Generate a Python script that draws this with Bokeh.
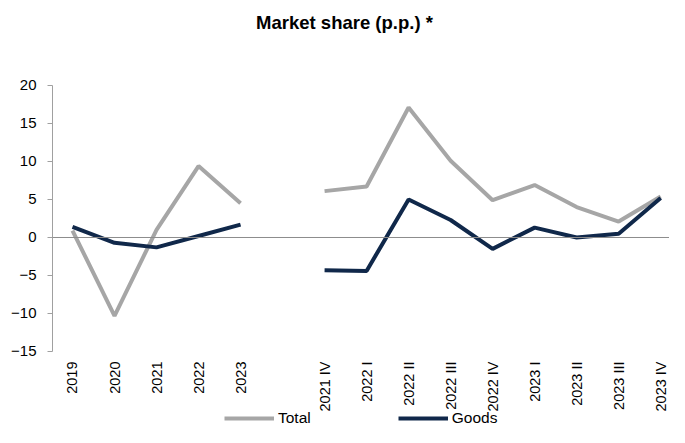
import math
from bokeh.plotting import figure
from bokeh.models import Range1d, FixedTicker, Legend, LegendItem, Span, Label
from bokeh.embed import file_html
from bokeh.resources import INLINE

# ---- data ----
categories = ["2019", "2020", "2021", "2022", "2023", "",
              "2021 IV", "2022 I", "2022 II", "2022 III", "2022 IV",
              "2023 I", "2023 II", "2023 III", "2023 IV"]
annual_labels = ["2019", "2020", "2021", "2022", "2023"]
quarter_labels = ["2021 IV", "2022 I", "2022 II", "2022 III", "2022 IV",
                  "2023 I", "2023 II", "2023 III", "2023 IV"]
total_annual = [0.9, -10.3, 1.0, 9.4, 4.5]
goods_annual = [1.4, -0.7, -1.3, 0.2, 1.7]
total_quarter = [6.1, 6.7, 17.1, 10.1, 4.9, 6.9, 4.0, 2.1, 5.4]
goods_quarter = [-4.3, -4.4, 5.0, 2.3, -1.5, 1.3, 0.0, 0.5, 5.2]
y_ticks = [-15, -10, -5, 0, 5, 10, 15, 20]
y_min, y_max = -15, 20

TOTAL_COLOR = "#A6A6A6"
GOODS_COLOR = "#10284A"
FONT = "Liberation Sans"

xa = [categories.index(c) for c in annual_labels]
xq = [categories.index(c) for c in quarter_labels]

W, H = 669, 427
LEFT = 52
p = figure(width=W, height=H, output_backend="svg", toolbar_location=None,
           x_range=Range1d(-0.476, 14.21), y_range=Range1d(-25.0, 31.18),
           min_border_left=LEFT, min_border_right=0, min_border_top=0,
           min_border_bottom=0)
p.outline_line_color = None
p.xgrid.visible = False
p.ygrid.visible = False

# title (inside the canvas, above the axes)
p.add_layout(Label(x=292, y=H - 22, x_units="screen", y_units="screen",
                   text="Market share (p.p.) *", text_font=FONT,
                   text_font_size="18.5px", text_font_style="bold",
                   text_color="#000000", text_align="center",
                   text_baseline="middle"))

# zero line
p.add_layout(Span(location=0, dimension="width", line_color="#8C8C8C", line_width=1))

r1 = p.line(xa, total_annual, line_color=TOTAL_COLOR, line_width=4)
p.line(xq, total_quarter, line_color=TOTAL_COLOR, line_width=4)
r2 = p.line(xa, goods_annual, line_color=GOODS_COLOR, line_width=4)
p.line(xq, goods_quarter, line_color=GOODS_COLOR, line_width=4)

# y axis
ya = p.yaxis[0]
ya.ticker = FixedTicker(ticks=y_ticks)
ya.bounds = (y_min, y_max)
ya.axis_line_color = "#A0A0A0"
ya.major_tick_line_color = "#A0A0A0"
ya.major_tick_out = 5
ya.major_tick_in = 0
ya.minor_tick_line_color = None
ya.major_label_text_font = FONT
ya.major_label_text_font_size = "15px"
ya.major_label_text_color = "#000000"
ya.major_label_standoff = 11

# x axis, drawn at the bottom of the value range
xax = p.xaxis[0]
xax.fixed_location = y_min
xax.ticker = FixedTicker(ticks=[i for i, c in enumerate(categories) if c])
xax.major_label_overrides = {i: c for i, c in enumerate(categories) if c}
xax.major_label_orientation = math.pi / 2
xax.axis_line_color = None
xax.major_tick_line_color = None
xax.minor_tick_line_color = None
xax.major_tick_out = 0
xax.major_tick_in = 0
xax.major_label_standoff = 10
xax.major_label_text_font = FONT
xax.major_label_text_font_size = "14.5px"
xax.major_label_text_color = "#000000"

legend = Legend(items=[LegendItem(label="Total", renderers=[r1]),
                       LegendItem(label="Goods", renderers=[r2])],
                orientation="horizontal", location=(172, 0),
                glyph_width=50, glyph_height=12, label_height=12,
                label_text_font=FONT, label_text_font_size="15.5px",
                label_text_color="#000000", spacing=87, padding=0, margin=0,
                label_standoff=4, border_line_color=None, background_fill_alpha=0)
p.add_layout(legend, "center")

open("out.html", "w").write(file_html(p, INLINE))
